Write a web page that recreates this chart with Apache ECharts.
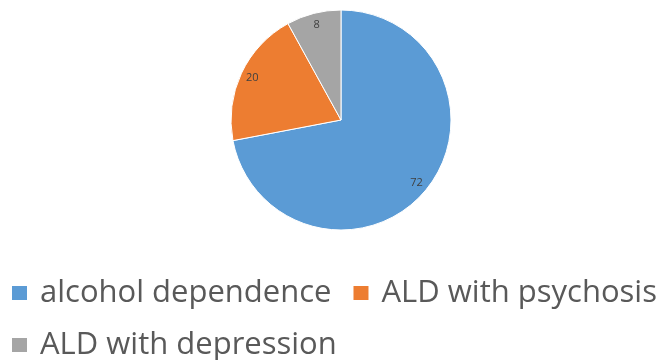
<!DOCTYPE html>
<html>
<head>
	<meta charset="utf-8">
	<title>ALD pie</title>
	<script type="text/javascript" src="https://cdn.jsdelivr.net/npm/echarts@6/dist/echarts.min.js"></script>
	<style>
		html, body { margin: 0; padding: 0; background: #fff; }
	</style>
</head>
<body>
	<div id="chartPie" style="width: 665px; height: 360px;"></div>
	<script type="text/javascript">
	// values
	var categories = ['alcohol dependence', 'ALD with psychosis', 'ALD with depression'];
	var values = [72, 20, 8];
	var colors = ['#5B9BD5', '#ED7D31', '#A5A5A5'];

	var pieData = categories.map(function (name, i) {
		return { name: name, value: values[i], itemStyle: { color: colors[i] } };
	});

	var chartPie = echarts.init(document.getElementById('chartPie'));
	chartPie.setOption({
		animation: false,
		legend: {
			data: categories,
			left: 10,
			right: 0,
			top: 277,
			padding: 0,
			itemWidth: 17,
			itemHeight: 16,
			itemGap: 20,
			icon: 'rect',
			textStyle: {
				fontFamily: 'Open Sans',
				fontSize: 31,
				color: '#595959',
				lineHeight: 32,
				padding: [0, 0, 0, 7]
			}
		},
		series: [{
			name: 'main',
			type: 'pie',
			center: [341, 120],
			radius: 110,
			startAngle: 90,
			clockwise: true,
			label: { show: false },
			labelLine: { show: false },
			itemStyle: { borderColor: '#fff', borderWidth: 1 },
			emphasis: { disabled: true },
			data: pieData
		}, {
			// transparent ring only used to place the value labels near the rim
			name: 'labels',
			type: 'pie',
			center: [341, 120],
			radius: [85, 105],
			startAngle: 90,
			clockwise: true,
			silent: true,
			itemStyle: { color: 'rgba(0,0,0,0)' },
			label: {
				show: true,
				position: 'inside',
				formatter: '{c}',
				fontFamily: 'Open Sans',
				fontSize: 11,
				color: '#404040'
			},
			labelLine: { show: false },
			data: categories.map(function (name, i) {
				return { name: name, value: values[i] };
			})
		}]
	});
	</script>
</body>
</html>
